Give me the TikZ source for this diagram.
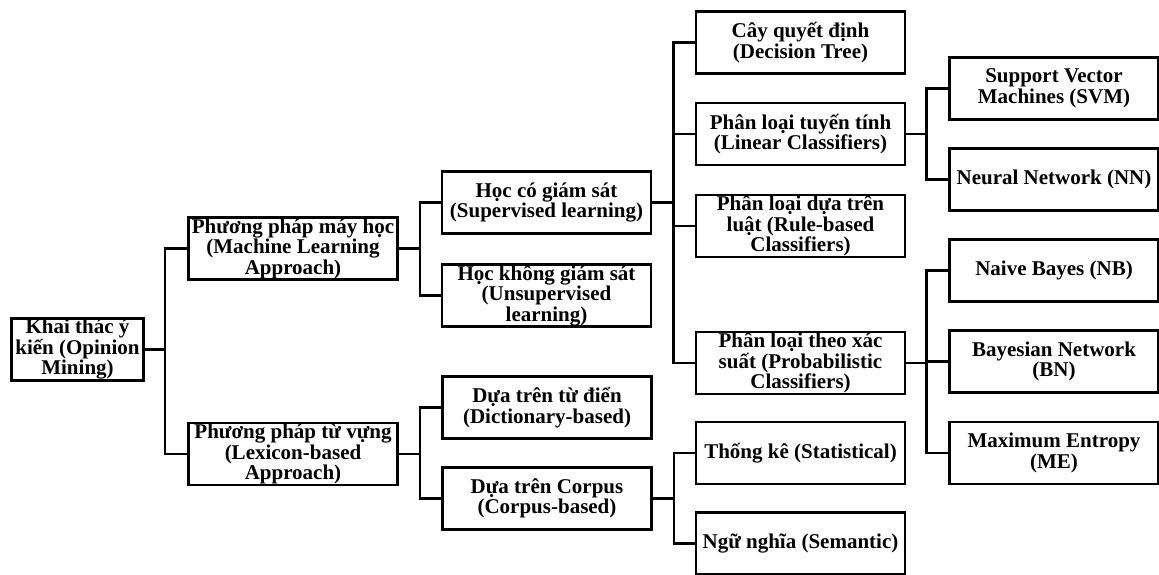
\documentclass[tikz,border=0pt]{standalone}
\usepackage{fontspec}
\setmainfont{Liberation Serif}
\begin{document}
\begin{tikzpicture}[x=1pt,y=-1pt,
    box/.style={draw,line width=2.6pt,minimum width=209pt,minimum height=62pt,
      inner sep=0pt,align=center,font=\bfseries\fontsize{21}{20.5}\selectfont},
    link/.style={line width=2.6pt}]
  \useasboundingbox (0,0) rectangle (1159,575);
  \draw
    (77.5,349.5) node[box,minimum width=132pt] (om){Khai thác ý\\kiến (Opinion\\Mining)}
    (293,248.5) node[box] (ml){Phương pháp máy học\\(Machine Learning\\Approach)}
    (293,454) node[box] (lex){Phương pháp từ vựng\\(Lexicon-based\\Approach)}
    (546.5,202.5) node[box] (sup){Học có giám sát\\(Supervised learning)}
    (546.5,295.5) node[box] (unsup){Học không giám sát\\(Unsupervised\\learning)}
    (547,407.5) node[box] (dict){Dựa trên từ điển\\(Dictionary-based)}
    (547,498.5) node[box] (corp){Dựa trên Corpus\\(Corpus-based)}
    (800.5,42.5) node[box] (dt){Cây quyết định\\(Decision Tree)}
    (800.5,134) node[box] (lin){Phân loại tuyến tính\\(Linear Classifiers)}
    (800.5,226) node[box] (rule){Phân loại dựa trên\\luật (Rule-based\\Classifiers)}
    (800.5,363) node[box] (prob){Phân loại theo xác\\suất (Probabilistic\\Classifiers)}
    (800.5,453) node[box] (stat){Thống kê (Statistical)}
    (800.5,543.5) node[box] (sem){Ngữ nghĩa (Semantic)}
    (1054,88.5) node[box] (svm){Support Vector\\Machines (SVM)}
    (1054,179.5) node[box] (nn){Neural Network (NN)}
    (1054,270.5) node[box] (nb){Naive Bayes (NB)}
    (1054,361.5) node[box] (bn){Bayesian Network\\(BN)}
    (1054,453) node[box] (me){Maximum Entropy\\(ME)};
  \begin{scope}[link]
    \draw (om.east) -- ++(20,0) |- (ml.west);
    \draw (om.east) -- ++(20,0) |- (lex.west);
    \draw (ml.east) -- ++(21,0) |- (sup.west);
    \draw (ml.east) -- ++(21,0) |- (unsup.west);
    \draw (lex.east) -- ++(21,0) |- (dict.west);
    \draw (lex.east) -- ++(21,0) |- (corp.west);
    \draw (sup.east) -- ++(21,0) |- (dt.west);
    \draw (sup.east) -- ++(21,0) |- (lin.west);
    \draw (sup.east) -- ++(21,0) |- (rule.west);
    \draw (sup.east) -- ++(21,0) |- (prob.west);
    \draw (corp.east) -- ++(21,0) |- (stat.west);
    \draw (corp.east) -- ++(21,0) |- (sem.west);
    \draw (lin.east) -- ++(20,0) |- (svm.west);
    \draw (lin.east) -- ++(20,0) |- (nn.west);
    \draw (prob.east) -- ++(20,0) |- (nb.west);
    \draw (prob.east) -- ++(20,0) |- (bn.west);
    \draw (prob.east) -- ++(20,0) |- (me.west);
  \end{scope}
\end{tikzpicture}
\end{document}
